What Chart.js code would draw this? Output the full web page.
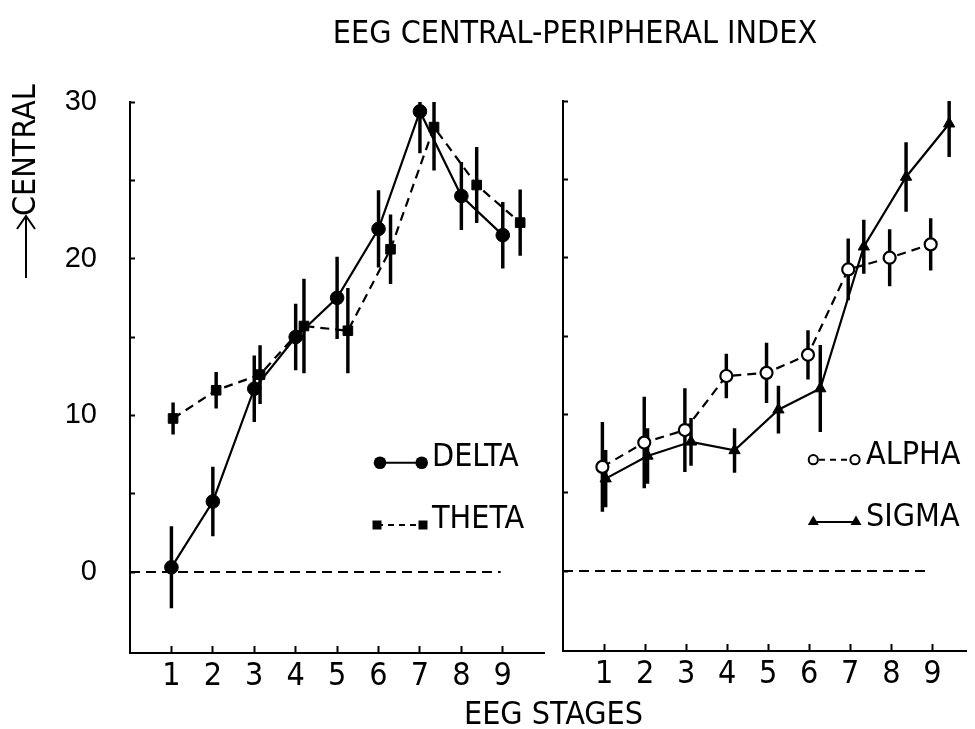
<!DOCTYPE html>
<html><head><meta charset="utf-8">
<script src="https://cdn.jsdelivr.net/npm/chart.js@4.4.0/dist/chart.umd.min.js"></script>
<style>
html,body{margin:0;padding:0;background:#fff;}
#wrap{position:relative;width:975px;height:729px;overflow:hidden;background:#fff;}
.box{position:absolute;top:0;height:729px;}
.t{position:absolute;font-family:'Liberation Sans Narrow','DejaVu Sans Condensed','Arial Narrow','Liberation Sans',sans-serif;color:#000;white-space:nowrap;line-height:1;font-size:32px;}
</style></head><body>
<div id="wrap">
  <div class="box" style="left:0;width:552px"><canvas id="c1"></canvas></div>
  <div class="box" style="left:552px;width:423px"><canvas id="c2"></canvas></div>
  <div class="t" style="left:0;width:1150px;text-align:center;top:16px">EEG CENTRAL-PERIPHERAL INDEX</div>
  <div class="t" style="left:0;width:1107px;text-align:center;top:697px">EEG STAGES</div>
  <div class="t" style="left:-36px;width:120px;text-align:center;top:140px;transform:rotate(-90deg)">CENTRAL</div>
  <div class="t" style="left:432px;top:439px">DELTA</div>
  <div class="t" style="left:432px;top:501px">THETA</div>
  <div class="t" style="left:866px;top:437px">ALPHA</div>
  <div class="t" style="left:866px;top:499px">SIGMA</div>
</div>
<script>
// ---- data ----
const stageTicks = [1, 2, 3, 4, 5, 6, 7, 8, 9];
const yTickLabels = [0, 10, 20, 30];

const deltaX    = [1, 2, 3, 4, 5, 6, 7, 8, 9];
const deltaMean = [0.3, 4.5, 11.7, 15.0, 17.5, 21.9, 29.4, 24.0, 21.5];
const deltaErr  = [2.6, 2.2, 2.1, 2.1, 2.6, 2.45, 2.65, 2.15, 2.1];

const thetaX    = [1.04, 2.08, 3.14, 4.2, 5.26, 6.29, 7.34, 8.37, 9.42];
const thetaMean = [9.8, 11.6, 12.6, 15.7, 15.4, 20.6, 28.4, 24.7, 22.3];
const thetaErr  = [1.0, 1.15, 1.85, 3.0, 2.7, 2.2, 2.75, 2.4, 2.1];

const alphaX    = [0.96, 1.98, 2.97, 3.98, 4.96, 5.97, 6.95, 7.96, 8.96];
const alphaMean = [6.65, 8.2, 9.0, 12.45, 12.65, 13.8, 19.25, 20.0, 20.85];
const alphaErr  = [2.85, 2.9, 2.65, 1.4, 1.9, 1.55, 1.95, 1.8, 1.65];

const sigmaX    = [1.04, 2.06, 3.12, 4.18, 5.25, 6.27, 7.33, 8.36, 9.41];
const sigmaMean = [5.9, 7.35, 8.25, 7.7, 10.3, 11.65, 20.7, 25.15, 28.55];
const sigmaErr  = [1.8, 1.75, 1.5, 1.4, 1.5, 2.75, 1.7, 2.2, 2.1];

const zeroLineX = [0, 8.95];

// ---- helpers ----
const FONT = "'Liberation Sans Narrow','DejaVu Sans Condensed','Arial Narrow','Liberation Sans',sans-serif";
const YFONT = "'Liberation Sans',Arial,sans-serif";
const pts = (xs, ys) => xs.map((x, i) => ({x: x, y: ys[i]}));
const bars = (xs, ys, es) => xs.map((x, i) => ({x: x, y: [ys[i] - es[i], ys[i] + es[i]]}));
const errSet = (xs, ys, es) => ({type: 'bar', data: bars(xs, ys, es), backgroundColor: '#000', borderWidth: 0, barThickness: 2.8, grouped: false});
const zeroSet = () => ({type: 'line', data: zeroLineX.map(x => ({x: x, y: 0})), borderColor: '#000', borderWidth: 2, borderDash: [10, 6], pointRadius: 0, fill: false});

function makeOptions(o) {
  return {
    responsive: true, maintainAspectRatio: false, animation: false,
    layout: {padding: o.padding},
    plugins: {legend: {display: false}, tooltip: {enabled: false}, title: {display: false}},
    scales: {
      x: {
        type: 'linear', min: 0, max: o.xmax, offset: false, position: 'bottom',
        afterFit(s) { s.height = o.xh; },
        border: {display: true, color: '#000', width: 2},
        grid: {drawOnChartArea: false, drawTicks: true, tickLength: -7, tickColor: '#000', tickWidth: 2, offset: false},
        afterBuildTicks(s) { s.ticks = stageTicks.map(v => ({value: v})); },
        ticks: {autoSkip: false, maxRotation: 0, padding: 11, color: '#000', font: {family: FONT, size: 32},
                callback: v => String(v)}
      },
      y: {
        type: 'linear', min: o.ymin, max: 30,
        afterFit(s) { s.width = o.yw; },
        border: {display: true, color: '#000', width: 2},
        grid: {drawOnChartArea: false, drawTicks: true, tickLength: -5, tickColor: '#000', tickWidth: 2},
        afterBuildTicks(s) { s.ticks = [0, 5, 10, 15, 20, 25, 30].map(v => ({value: v})); },
        ticks: {padding: 38, color: '#000', font: {family: YFONT, size: 29},
                callback: v => (o.labels && yTickLabels.includes(v)) ? String(v) : ''}
      }
    }
  };
}

const leftDeco = {
  id: 'leftDeco',
  afterDraw(chart) {
    const ctx = chart.ctx;
    ctx.save();
    ctx.strokeStyle = '#000'; ctx.fillStyle = '#000'; ctx.lineWidth = 2;
    ctx.beginPath(); ctx.moveTo(380, 462.7); ctx.lineTo(421.7, 462.7); ctx.stroke();
    [380, 421.7].forEach(x => { ctx.beginPath(); ctx.arc(x, 462.7, 6.3, 0, Math.PI * 2); ctx.fill(); });
    ctx.setLineDash([6, 5]);
    ctx.beginPath(); ctx.moveTo(377, 525); ctx.lineTo(423, 525); ctx.stroke();
    ctx.setLineDash([]);
    [377, 423].forEach(x => ctx.fillRect(x - 4.5, 525 - 4.5, 9, 9));
    ctx.beginPath(); ctx.moveTo(26, 278); ctx.lineTo(26, 216); ctx.stroke();
    ctx.beginPath(); ctx.moveTo(17, 229); ctx.lineTo(26, 216); ctx.lineTo(35, 229); ctx.stroke();
    ctx.restore();
  }
};

const rightDeco = {
  id: 'rightDeco',
  afterDraw(chart) {
    const ctx = chart.ctx;
    const ox = 552;
    ctx.save();
    ctx.strokeStyle = '#000'; ctx.fillStyle = '#000'; ctx.lineWidth = 2;
    ctx.setLineDash([6, 5]);
    ctx.beginPath(); ctx.moveTo(819 - ox, 459.7); ctx.lineTo(850 - ox, 459.7); ctx.stroke();
    ctx.setLineDash([]);
    [813.3, 855].forEach(x => { ctx.beginPath(); ctx.arc(x - ox, 459.7, 4.6, 0, Math.PI * 2); ctx.fillStyle = '#fff'; ctx.fill(); ctx.stroke(); });
    ctx.fillStyle = '#000';
    ctx.beginPath(); ctx.moveTo(813.3 - ox, 522); ctx.lineTo(856 - ox, 522); ctx.stroke();
    [813.3, 856].forEach(x => {
      const cx = x - ox;
      ctx.beginPath(); ctx.moveTo(cx, 515.5); ctx.lineTo(cx + 5.5, 525); ctx.lineTo(cx - 5.5, 525); ctx.closePath(); ctx.fill();
    });
    ctx.restore();
  }
};

new Chart(document.getElementById('c1'), {
  type: 'line',
  data: {
    datasets: [
      {label: 'DELTA', data: pts(deltaX, deltaMean), borderColor: '#000', borderWidth: 2.2, pointStyle: 'circle', pointRadius: 6.8, pointBackgroundColor: '#000', pointBorderColor: '#000', pointBorderWidth: 1, fill: false, tension: 0},
      {label: 'THETA', data: pts(thetaX, thetaMean), borderColor: '#000', borderWidth: 2.2, borderDash: [9, 6], pointStyle: 'rect', pointRadius: 6.8, pointBackgroundColor: '#000', pointBorderColor: '#000', pointBorderWidth: 1, fill: false, tension: 0},
      errSet(deltaX, deltaMean, deltaErr),
      errSet(thetaX, thetaMean, thetaErr),
      zeroSet()
    ]
  },
  options: makeOptions({padding: {left: 0, right: 4, top: 102, bottom: 0}, xmax: 10, xh: 76, ymin: -5.17, yw: 130, labels: true}),
  plugins: [leftDeco]
});

new Chart(document.getElementById('c2'), {
  type: 'line',
  data: {
    datasets: [
      {label: 'ALPHA', data: pts(alphaX, alphaMean), borderColor: '#000', borderWidth: 2.2, borderDash: [9, 6], pointStyle: 'circle', pointRadius: 6, pointBackgroundColor: '#fff', pointBorderColor: '#000', pointBorderWidth: 2.2, fill: false, tension: 0},
      {label: 'SIGMA', data: pts(sigmaX, sigmaMean), borderColor: '#000', borderWidth: 2.2, pointStyle: 'triangle', pointRadius: 6.5, pointBackgroundColor: '#000', pointBorderColor: '#000', pointBorderWidth: 1, fill: false, tension: 0},
      errSet(alphaX, alphaMean, alphaErr),
      errSet(sigmaX, sigmaMean, sigmaErr),
      zeroSet()
    ]
  },
  options: makeOptions({padding: {left: 0, right: 0, top: 101, bottom: 0}, xmax: 9.84, xh: 78, ymin: -5.1, yw: 11, labels: false}),
  plugins: [rightDeco]
});
</script>
</body></html>
